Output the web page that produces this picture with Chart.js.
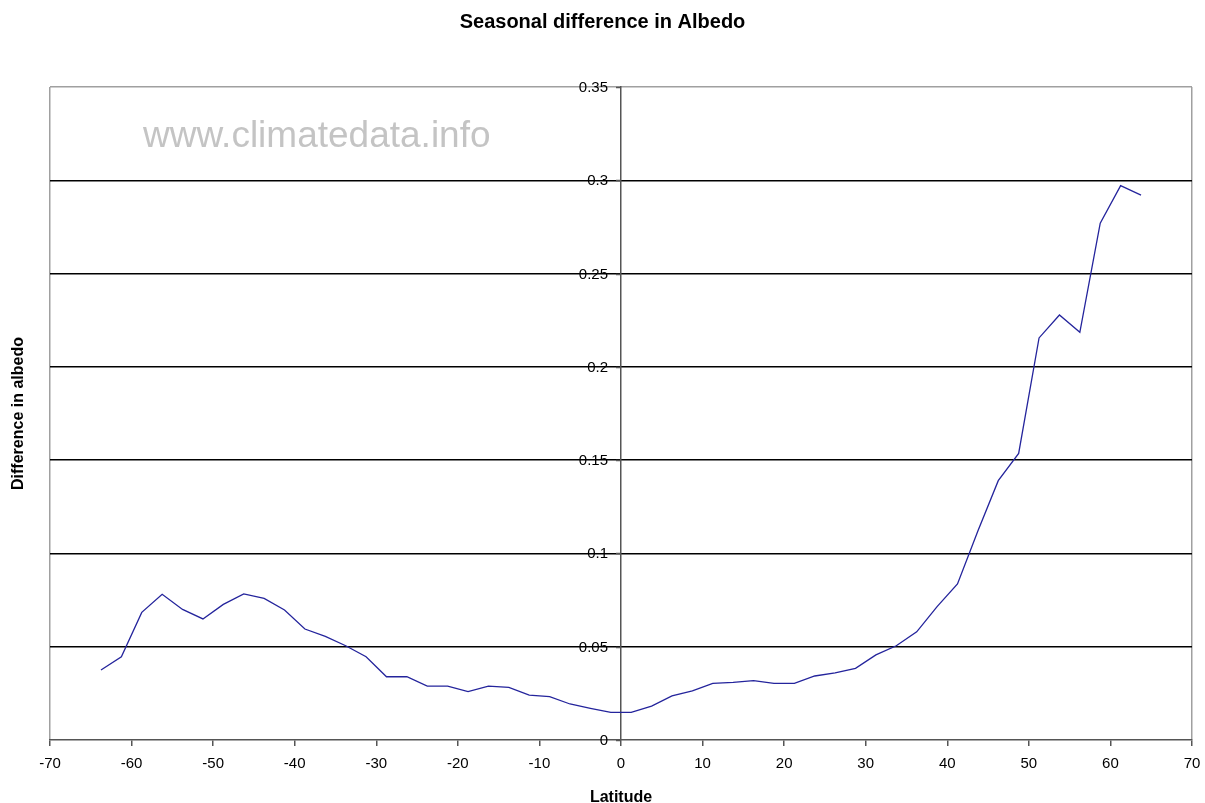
<!DOCTYPE html>
<html>
<head>
<meta charset="utf-8">
<script src="https://cdn.jsdelivr.net/npm/chart.js@4/dist/chart.umd.min.js"></script>
<style>
  html, body { margin: 0; padding: 0; background: #ffffff; }
  #wrap { width: 1205px; height: 803px; position: relative; }
</style>
</head>
<body>
<div id="wrap"><canvas id="chart" width="1205" height="803"></canvas></div>
<script>
// Zonal band centres (degrees latitude)
const latitude = [
  -63.75, -61.25, -58.75, -56.25, -53.75, -51.25, -48.75, -46.25, -43.75, -41.25,
  -38.75, -36.25, -33.75, -31.25, -28.75, -26.25, -23.75, -21.25, -18.75, -16.25,
  -13.75, -11.25, -8.75, -6.25, -3.75, -1.25, 1.25, 3.75, 6.25, 8.75,
  11.25, 13.75, 16.25, 18.75, 21.25, 23.75, 26.25, 28.75, 31.25, 33.75,
  36.25, 38.75, 41.25, 43.75, 46.25, 48.75, 51.25, 53.75, 56.25, 58.75,
  61.25, 63.75
];

// Seasonal difference in albedo for each band
const albedoDiff = [
  0.0375, 0.0446, 0.0684, 0.0781, 0.0700, 0.0649, 0.0727, 0.0783, 0.0759, 0.0697,
  0.0595, 0.0555, 0.0505, 0.0446, 0.0339, 0.0339, 0.0289, 0.0289, 0.0259, 0.0289,
  0.0282, 0.0241, 0.0232, 0.0193, 0.0170, 0.0148, 0.0148, 0.0182, 0.0236, 0.0263,
  0.0304, 0.0309, 0.0318, 0.0304, 0.0304, 0.0343, 0.0360, 0.0384, 0.0456, 0.0505,
  0.0580, 0.0715, 0.0836, 0.1120, 0.1390, 0.1536, 0.2155, 0.2278, 0.2185, 0.2770,
  0.2971, 0.2920
];

// Axis tick values
const xTickValues = [-70, -60, -50, -40, -30, -20, -10, 0, 10, 20, 30, 40, 50, 60, 70];
const yTickValues = [0, 0.05, 0.1, 0.15, 0.2, 0.25, 0.3, 0.35];

const chartTitle = 'Seasonal difference in Albedo';
const xAxisTitle = 'Latitude';
const yAxisTitle = 'Difference in albedo';
const watermark = 'www.climatedata.info';

const FONT = "'Liberation Sans', Arial, sans-serif";

const points = latitude.map((lat, i) => ({ x: lat, y: albedoDiff[i] }));

const fmt = (v) => String(Math.round(v * 100) / 100);

// Title, side title, watermark and the labels of the centred value axis
const extraText = {
  id: 'extraText',
  beforeDatasetsDraw(chart) {
    const ctx = chart.ctx;
    ctx.save();
    ctx.font = "37px " + FONT;
    ctx.fillStyle = '#c4c4c4';
    ctx.textAlign = 'left';
    ctx.textBaseline = 'alphabetic';
    ctx.fillText(watermark, 143, 147);
    ctx.restore();
  },
  afterDraw(chart) {
    const ctx = chart.ctx;
    const area = chart.chartArea;
    const xs = chart.scales.x;
    const ys = chart.scales.y;
    const axisX = xs.getPixelForValue(0);

    ctx.save();
    // chart title, centred on the page
    ctx.font = "bold 20px " + FONT;
    ctx.fillStyle = '#000';
    ctx.textAlign = 'center';
    ctx.textBaseline = 'middle';
    ctx.fillText(chartTitle, chart.width / 2, 22);

    // value-axis title
    ctx.save();
    ctx.font = "bold 16px " + FONT;
    ctx.translate(19, (area.top + area.bottom) / 2);
    ctx.rotate(-Math.PI / 2);
    ctx.fillText(yAxisTitle, 0, 0);
    ctx.restore();

    // tick marks and labels on the value axis at latitude 0
    ctx.strokeStyle = '#555';
    ctx.lineWidth = 1.5;
    ctx.font = "15px " + FONT;
    ctx.textAlign = 'right';
    ctx.textBaseline = 'middle';
    ys.ticks.forEach((t) => {
      const py = Math.round(ys.getPixelForValue(t.value)) + 0.5;
      ctx.beginPath();
      ctx.moveTo(axisX - 5, py);
      ctx.lineTo(axisX, py);
      ctx.stroke();
      ctx.fillText(fmt(t.value), axisX - 13, py);
    });
    ctx.restore();
  }
};

const near = (a, b) => Math.abs(a - b) < 1e-9;

new Chart(document.getElementById('chart'), {
  type: 'scatter',
  data: {
    datasets: [{
      data: points,
      showLine: true,
      borderColor: '#24249c',
      borderWidth: 1.3,
      pointRadius: 0,
      pointHoverRadius: 0,
      fill: false,
      tension: 0
    }]
  },
  options: {
    responsive: false,
    animation: false,
    devicePixelRatio: 1,
    layout: { padding: { left: 50, right: 13, top: 87, bottom: 0 } },
    plugins: {
      legend: { display: false },
      tooltip: { enabled: false },
      title: { display: false }
    },
    scales: {
      x: {
        type: 'linear',
        position: 'bottom',
        min: -70,
        max: 70,
        afterBuildTicks: (scale) => { scale.ticks = xTickValues.map(v => ({ value: v })); },
        afterFit: (scale) => { scale.paddingLeft = 0; scale.paddingRight = 0; },
        ticks: {
          color: '#000',
          font: { family: FONT, size: 15 },
          padding: 9,
          maxRotation: 0,
          autoSkip: false
        },
        grid: {
          drawOnChartArea: true,
          color: (c) => (c.tick && (c.tick.value === -70 || c.tick.value === 70)) ? '#a0a0a0' : 'rgba(0,0,0,0)',
          lineWidth: 1.5,
          tickColor: '#555',
          tickLength: 6
        },
        border: { color: '#555', width: 1.5 },
        title: {
          display: true,
          text: xAxisTitle,
          color: '#000',
          font: { family: FONT, size: 16, weight: 'bold', lineHeight: 1 },
          padding: { top: 8, bottom: -3 }
        }
      },
      y: {
        type: 'linear',
        position: { x: 0 },
        min: 0,
        max: 0.35,
        afterBuildTicks: (scale) => { scale.ticks = yTickValues.map(v => ({ value: v })); },
        ticks: { display: false },
        grid: {
          color: (c) => {
            if (!c.tick) return '#000';
            if (near(c.tick.value, 0.35)) return '#a0a0a0';
            if (near(c.tick.value, 0)) return 'rgba(0,0,0,0)';
            return '#000';
          },
          lineWidth: 1.5,
          drawTicks: false
        },
        border: { color: '#555', width: 1.5 }
      }
    }
  },
  plugins: [extraText]
});
</script>
</body>
</html>
